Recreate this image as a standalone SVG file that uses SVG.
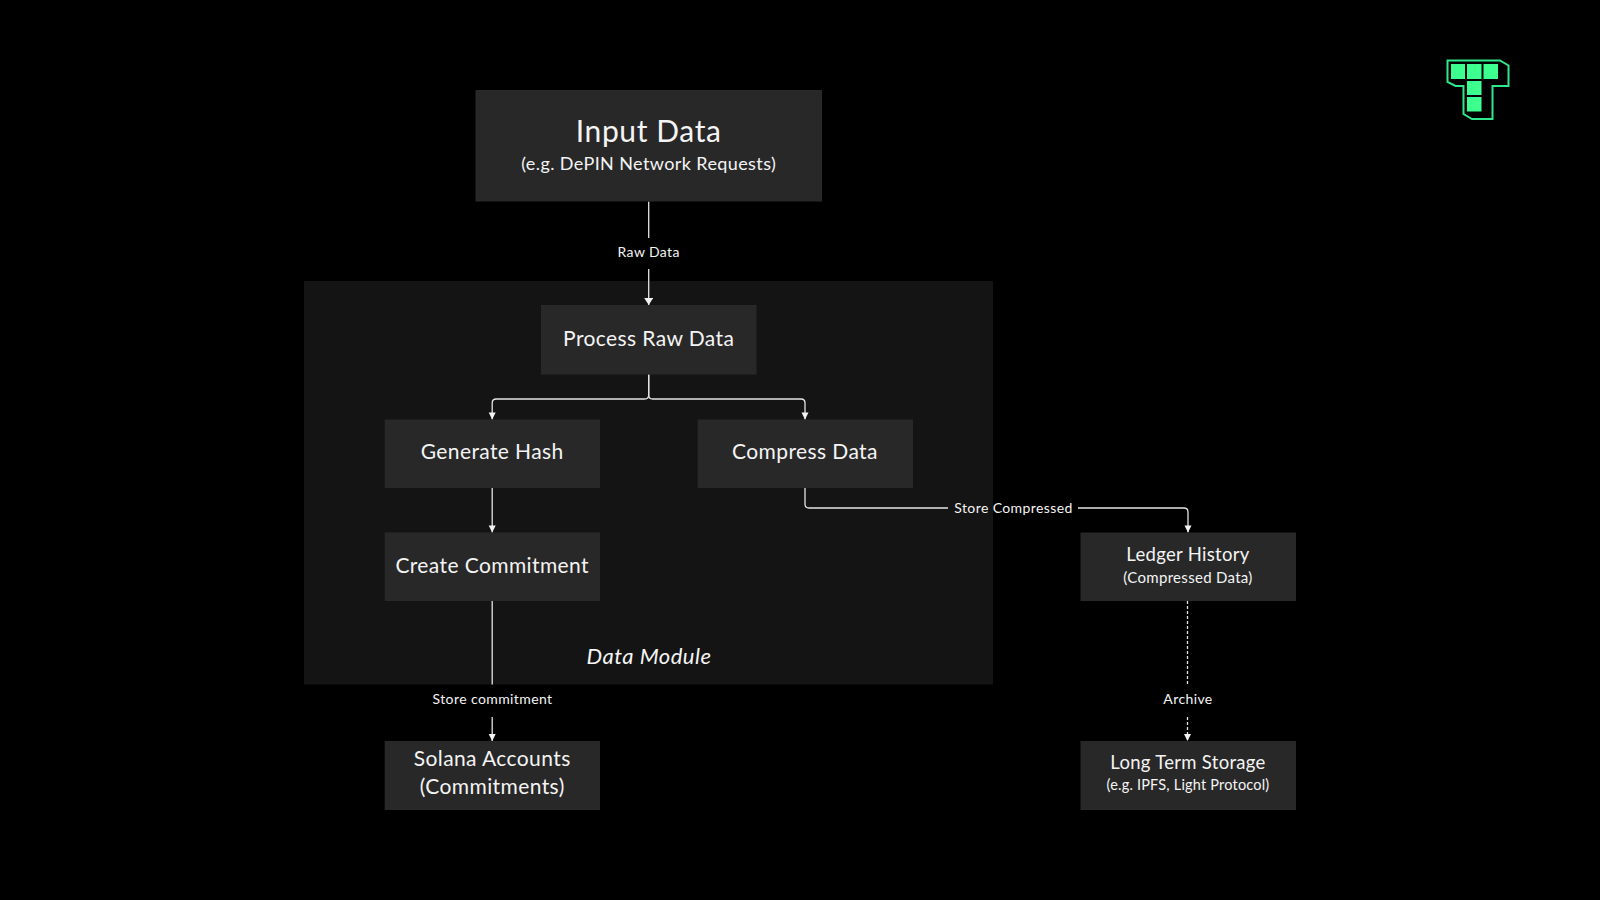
<svg xmlns="http://www.w3.org/2000/svg" width="1600" height="900" viewBox="0 0 1600 900">
<defs>
<marker id="arrow" markerUnits="userSpaceOnUse" markerWidth="10" markerHeight="8" refX="8" refY="3.5" orient="auto"><path d="M1 0 L8 3.5 L1 7 Z" fill="#f2f2f2"/></marker>
<marker id="arrow-lg" markerUnits="userSpaceOnUse" markerWidth="10" markerHeight="10" refX="7" refY="4.5" orient="auto"><path d="M0 0 L7 4.5 L0 9 Z" fill="#f2f2f2"/></marker>
</defs>
<style>
text{font-family:"Lato","Noto Sans","Liberation Sans",sans-serif;fill:#f4f4f4;text-anchor:middle}
.box{fill:#282828}
.c{fill:none;stroke:#e4e4e4;stroke-width:1.3}
.d{stroke-dasharray:3 2}
.l{font-size:14px;letter-spacing:.4px}
.t{font-size:21px;letter-spacing:.4px}
</style>
<rect width="1600" height="900" fill="#000"/>
<rect id="data-module" x="304" y="281" width="689" height="403.500" fill="#141414"/>
<text x="649" y="664" font-size="22" font-style="italic" letter-spacing=".5" fill="#f4f4f4">Data Module</text>
<g id="connectors">
<path class="c" d="M648.700 201.500V238"/>
<path class="c" d="M648.700 269V305" marker-end="url(#arrow-lg)"/>
<path class="c" d="M648.700 374.500V395Q648.700 399 644.700 399H496.200Q492.200 399 492.200 403V419.500" marker-end="url(#arrow)"/>
<path class="c" d="M648.700 374.500V395Q648.700 399 652.700 399H801Q805 399 805 403V419.500" marker-end="url(#arrow)"/>
<path class="c" d="M492.200 488V532.500" marker-end="url(#arrow)"/>
<path class="c" d="M805 488V504Q805 508 809 508H948"/>
<path class="c" d="M1078 508H1184Q1188 508 1188 512V532.500" marker-end="url(#arrow)"/>
<path class="c" d="M492.200 601V684.500"/>
<path class="c" d="M492.200 717V741" marker-end="url(#arrow)"/>
<path class="c d" d="M1187.500 601V684"/>
<path class="c d" d="M1187.500 717V741" marker-end="url(#arrow)"/>
<text class="l" x="648.700" y="257">Raw Data</text>
<text class="l" x="1013.500" y="512.500">Store Compressed</text>
<text class="l" x="492.500" y="704">Store commitment</text>
<text class="l" x="1188" y="704">Archive</text>
</g>
<g id="input-data"><rect class="box" x="475.500" y="90" width="346.500" height="111.500"/><text x="648.700" y="142" font-size="30" letter-spacing=".6">Input Data</text><text x="648.700" y="170" font-size="18" letter-spacing=".4">(e.g. DePIN Network Requests)</text></g>
<g id="process-raw-data"><rect class="box" x="541" y="305" width="215.500" height="69.500"/><text class="t" x="648.700" y="345.500">Process Raw Data</text></g>
<g id="generate-hash"><rect class="box" x="384.700" y="419.500" width="215.300" height="68.500"/><text class="t" x="492.200" y="458.500">Generate Hash</text></g>
<g id="compress-data"><rect class="box" x="697.700" y="419.500" width="215.300" height="68.500"/><text class="t" x="805" y="458.500">Compress Data</text></g>
<g id="create-commitment"><rect class="box" x="384.700" y="532.500" width="215.300" height="68.500"/><text class="t" x="492.200" y="572.500">Create Commitment</text></g>
<g id="solana-accounts"><rect class="box" x="384.700" y="741" width="215.300" height="69"/><text class="t" x="492.200" y="766">Solana Accounts</text><text class="t" x="492.200" y="794">(Commitments)</text></g>
<g id="ledger-history"><rect class="box" x="1080.500" y="532.500" width="215.500" height="68.500"/><text x="1188" y="561" font-size="18.500" letter-spacing=".3">Ledger History</text><text x="1188" y="583" font-size="15" letter-spacing=".3">(Compressed Data)</text></g>
<g id="long-term-storage"><rect class="box" x="1080.500" y="741" width="215.500" height="69"/><text x="1188" y="769" font-size="18.500" letter-spacing=".3">Long Term Storage</text><text x="1188" y="790" font-size="14.500" letter-spacing=".2">(e.g. IPFS, Light Protocol)</text></g>
<g id="logo">
<path d="M1447.500 60.500H1500L1508.500 65.500V86H1492.500V119H1472L1463.500 114V86H1455.500L1447.500 82Z" fill="none" stroke="#2fe88c" stroke-width="2"/>
<g fill="#3dff8f"><rect x="1451" y="64" width="14" height="15"/><rect x="1467" y="64" width="14.500" height="15"/><rect x="1483.500" y="64" width="14.500" height="15"/><rect x="1467" y="81" width="14.500" height="14"/><rect x="1467" y="97" width="14.500" height="14.500"/></g>
</g>
</svg>
